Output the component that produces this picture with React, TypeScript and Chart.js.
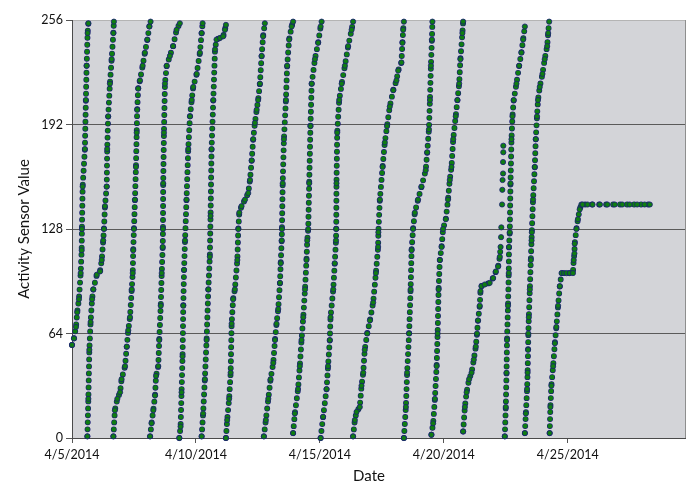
import React, { useEffect, useRef } from "react";
import { Chart, registerables } from "chart.js";

Chart.register(...registerables);

// x = days after 4/5/2014 00:00, y = activity sensor value (0..255, wraps)
const xTickDays = [0, 5, 10, 15, 20];
const yTickValues = [0, 64, 128, 192, 256];
const xMaxDays = 24.73;

const sweep01: [number, number][] = [
  [0.0, 57], [0.08, 61], [0.16, 68], [0.21, 77], [0.28, 85], [0.35, 101], [0.39, 115],
  [0.4, 128], [0.43, 154], [0.52, 177], [0.56, 207], [0.59, 228], [0.63, 248], [0.66, 254],
];
const sweep02: [number, number][] = [
  [0.62, 1], [0.66, 24], [0.7, 54], [0.75, 71], [0.81, 85], [0.86, 91], [1.0, 100], [1.13, 102],
  [1.2, 109], [1.26, 121], [1.29, 128], [1.33, 142], [1.4, 154], [1.42, 177], [1.46, 197],
  [1.53, 217], [1.6, 232], [1.67, 248], [1.69, 255],
];
const sweep03: [number, number][] = [
  [1.67, 1], [1.73, 17], [1.83, 24], [1.94, 28], [2.0, 36], [2.14, 44], [2.21, 56], [2.27, 66],
  [2.34, 74], [2.41, 91], [2.45, 101], [2.47, 115], [2.5, 128], [2.54, 146], [2.58, 166],
  [2.61, 187], [2.63, 201], [2.67, 214], [2.74, 219], [2.85, 228], [2.94, 236], [3.04, 244],
  [3.12, 252], [3.17, 255],
];
const sweep04: [number, number][] = [
  [3.15, 1], [3.21, 9], [3.28, 17], [3.35, 26], [3.39, 38], [3.48, 44], [3.52, 60], [3.58, 81],
  [3.62, 101], [3.66, 117], [3.67, 128], [3.68, 156], [3.71, 187], [3.75, 217], [3.82, 228],
  [3.95, 234], [4.08, 240], [4.22, 250], [4.35, 254],
];
const sweep05: [number, number][] = [
  [4.33, 0], [4.38, 7], [4.42, 28], [4.46, 50], [4.49, 81], [4.52, 103], [4.56, 121], [4.62, 146],
  [4.69, 177], [4.76, 197], [4.83, 207], [4.89, 215], [5.03, 223], [5.16, 236], [5.23, 248],
  [5.27, 254],
];
const sweep06: [number, number][] = [
  [5.23, 1], [5.29, 15], [5.36, 36], [5.43, 60], [5.5, 91], [5.56, 111], [5.59, 136], [5.63, 177],
  [5.7, 207], [5.77, 238], [5.83, 244], [5.97, 245], [6.1, 246], [6.17, 250], [6.21, 253],
];
const sweep07: [number, number][] = [
  [6.21, 0], [6.26, 11], [6.34, 24], [6.4, 40], [6.44, 70], [6.5, 85], [6.57, 91], [6.67, 109],
  [6.71, 128], [6.75, 138], [6.84, 142], [6.98, 146], [7.11, 150], [7.18, 158], [7.25, 170],
  [7.31, 183], [7.38, 193], [7.45, 201], [7.51, 207], [7.58, 217], [7.65, 234], [7.71, 246],
  [7.78, 254],
];
const sweep08: [number, number][] = [
  [7.74, 1], [7.82, 11], [7.92, 24], [8.01, 36], [8.12, 46], [8.19, 60], [8.25, 70], [8.32, 79],
  [8.39, 95], [8.42, 107], [8.46, 121], [8.47, 128], [8.5, 156], [8.55, 183], [8.63, 207],
  [8.68, 228], [8.76, 244], [8.86, 252], [8.92, 255],
];
const sweep09: [number, number][] = [
  [8.92, 3], [8.99, 15], [9.12, 30], [9.19, 44], [9.26, 60], [9.33, 74], [9.4, 91], [9.46, 109],
  [9.49, 121], [9.53, 128], [9.57, 156], [9.62, 191], [9.67, 217], [9.8, 232], [9.93, 242],
  [10.03, 252], [10.07, 255],
];
const sweep10: [number, number][] = [
  [10.03, 0], [10.13, 13], [10.27, 30], [10.33, 44], [10.4, 60], [10.43, 74], [10.54, 91],
  [10.6, 107], [10.65, 121], [10.66, 128], [10.67, 156], [10.7, 187], [10.78, 207], [10.88, 217],
  [11.01, 228], [11.14, 240], [11.28, 250], [11.34, 255],
];
const sweep11: [number, number][] = [
  [11.34, 1], [11.41, 11], [11.48, 16], [11.61, 19], [11.68, 32], [11.75, 40], [11.81, 54],
  [11.91, 64], [12.02, 72], [12.15, 83], [12.26, 101], [12.35, 117], [12.36, 126], [12.42, 146],
  [12.53, 166], [12.62, 181], [12.71, 191], [12.82, 203], [12.96, 213], [13.09, 219], [13.16, 225],
  [13.29, 230], [13.33, 242], [13.36, 250], [13.39, 255],
];
const sweep12: [number, number][] = [
  [13.39, 0], [13.47, 19], [13.52, 40], [13.6, 64], [13.66, 91], [13.7, 115], [13.76, 128],
  [13.83, 138], [13.96, 146], [14.1, 154], [14.27, 164], [14.33, 175], [14.4, 189], [14.44, 207],
  [14.48, 228], [14.52, 244], [14.54, 255],
];
const sweep13: [number, number][] = [
  [14.5, 2], [14.57, 9], [14.64, 24], [14.71, 44], [14.75, 64], [14.79, 91], [14.84, 109],
  [14.91, 117], [14.97, 128], [15.08, 134], [15.17, 146], [15.24, 158], [15.31, 166], [15.38, 183],
  [15.48, 197], [15.55, 207], [15.62, 217], [15.67, 232], [15.75, 248], [15.78, 255],
];
const sweep14: [number, number][] = [
  [15.78, 4], [15.85, 19], [15.92, 28], [16.02, 36], [16.12, 40], [16.21, 48], [16.29, 56],
  [16.34, 64], [16.38, 72], [16.45, 81], [16.48, 90], [16.52, 93], [16.65, 94], [16.85, 95],
  [16.99, 98], [17.1, 102], [17.19, 105], [17.26, 111], [17.29, 117],
];
// sparse readings at the top of the 4/21 sweep (drawn as separate dots only)
const sweep14Sparse: [number, number][] = [
  [17.31, 123], [17.32, 129], [17.35, 143], [17.36, 152], [17.37, 158], [17.39, 162],
  [17.39, 169], [17.4, 175], [17.4, 179],
];
const sweep15: [number, number][] = [
  [17.46, 1], [17.5, 19], [17.53, 40], [17.55, 60], [17.59, 81], [17.62, 101], [17.63, 117],
  [17.66, 126], [17.69, 156], [17.73, 183], [17.77, 197], [17.82, 207], [17.93, 217], [18.04, 228],
  [18.13, 236], [18.2, 244], [18.27, 252],
];
const sweep16: [number, number][] = [
  [18.27, 3], [18.31, 15], [18.36, 30], [18.38, 40], [18.4, 54], [18.41, 64], [18.43, 74],
  [18.47, 91], [18.51, 109], [18.54, 121], [18.55, 126], [18.6, 146], [18.67, 166], [18.71, 183],
  [18.76, 197], [18.8, 207], [18.87, 215], [18.98, 223], [19.07, 232], [19.17, 240], [19.21, 248],
  [19.25, 255],
];
const sweep17: [number, number][] = [
  [19.27, 3], [19.3, 19], [19.34, 32], [19.41, 44], [19.48, 58], [19.54, 68], [19.61, 81],
  [19.68, 93], [19.75, 101], [19.85, 101], [19.95, 101], [20.08, 101], [20.21, 101], [20.24, 109],
  [20.27, 113], [20.28, 119], [20.35, 128], [20.41, 134], [20.48, 140], [20.55, 143], [20.6, 143],
  [20.8, 143], [21.0, 143], [21.3, 143], [21.6, 143], [21.9, 143], [22.2, 143], [22.5, 143],
  [22.8, 143], [23.1, 143], [23.31, 143],
];

const sweeps = [
  sweep01, sweep02, sweep03, sweep04, sweep05, sweep06, sweep07, sweep08, sweep09,
  sweep10, sweep11, sweep12, sweep13, sweep14, sweep15, sweep16, sweep17,
];

const GREEN = "#0f7d12";
const NAVY = "#1a1a78";
const PLOT_BG = "#d3d4d8";

function dayLabel(v: number): string {
  const d = new Date(Date.UTC(2014, 3, 5 + Math.round(v)));
  return `${d.getUTCMonth() + 1}/${d.getUTCDate()}/${d.getUTCFullYear()}`;
}

const plotAreaPlugin = {
  id: "plotAreaDeco",
  beforeDraw(chart: any) {
    const { ctx, chartArea: a } = chart;
    ctx.save();
    ctx.fillStyle = PLOT_BG;
    ctx.fillRect(a.left, a.top, a.right - a.left, a.bottom - a.top);
    ctx.restore();
  },
  beforeDatasetsDraw(chart: any) {
    const { ctx, chartArea: a } = chart;
    ctx.save();
    ctx.strokeStyle = "#8e8e8e";
    ctx.lineWidth = 1;
    ctx.beginPath();
    ctx.moveTo(a.right + 0.5, a.top);
    ctx.lineTo(a.right + 0.5, a.bottom);
    ctx.stroke();
    ctx.restore();
  },
  afterDraw(chart: any) {
    const { ctx } = chart;
    ctx.save();
    ctx.fillStyle = "#111";
    ctx.font = "15px Lato";
    ctx.textAlign = "center";
    ctx.textBaseline = "alphabetic";
    ctx.fillText("Date", 369, 481);
    ctx.translate(29, 229);
    ctx.rotate(-Math.PI / 2);
    ctx.fillText("Activity Sensor Value", 0, 0);
    ctx.restore();
  },
};

export default function App() {
  const ref = useRef<HTMLCanvasElement | null>(null);

  useEffect(() => {
    if (!ref.current) return;
    const pathData: any[] = [];
    const pointData: any[] = [];
    sweeps.forEach((s) => {
      s.forEach(([x, y]) => {
        pathData.push({ x, y });
        pointData.push({ x, y });
      });
      pathData.push({ x: s[s.length - 1][0], y: null });
    });
    sweep14Sparse.forEach(([x, y]) => pointData.push({ x, y }));

    const chart = new Chart(ref.current, {
      type: "line",
      data: {
        datasets: [
          {
            data: pointData,
            showLine: false,
            pointRadius: 2.6,
            pointBorderWidth: 0.8,
            pointBackgroundColor: GREEN,
            pointBorderColor: NAVY,
            order: 0,
            clip: 6,
          } as any,
          {
            data: pathData,
            borderColor: GREEN,
            borderWidth: 4.8,
            borderDash: [0, 7],
            borderCapStyle: "round",
            pointRadius: 0,
            spanGaps: false,
            order: 1,
            clip: 6,
          } as any,
          {
            data: pathData,
            borderColor: NAVY,
            borderWidth: 5.9,
            borderDash: [0, 7],
            borderCapStyle: "round",
            pointRadius: 0,
            spanGaps: false,
            order: 2,
            clip: 6,
          } as any,
        ],
      },
      options: {
        animation: false,
        responsive: false,
        events: [],
        layout: { padding: { top: 20, right: 15, left: 0, bottom: 0 } },
        plugins: { legend: { display: false }, tooltip: { enabled: false } },
        scales: {
          x: {
            type: "linear",
            min: 0,
            max: xMaxDays,
            afterFit: (s: any) => {
              s.height = 52;
            },
            afterBuildTicks: (s: any) => {
              s.ticks = xTickDays.map((v) => ({ value: v }));
            },
            ticks: {
              callback: (v: any) => dayLabel(Number(v)),
              color: "#111",
              font: { family: "Lato", size: 12.5 },
              padding: 4,
              maxRotation: 0,
              autoSkip: false,
            },
            grid: {
              drawOnChartArea: false,
              drawTicks: true,
              tickLength: 5,
              tickColor: "#555",
            },
            border: { display: true, color: "#4a4a4a" },
          },
          y: {
            type: "linear",
            min: 0,
            max: 256,
            afterFit: (s: any) => {
              s.width = 72;
            },
            afterBuildTicks: (s: any) => {
              s.ticks = yTickValues.map((v) => ({ value: v }));
            },
            ticks: {
              color: "#111",
              font: { family: "Lato", size: 12.5 },
              padding: 3,
            },
            grid: {
              color: (c: any) =>
                c.tick && c.tick.value === 256 ? "#b4b4b4" : "#5a5a5a",
              tickColor: "#555",
              tickLength: 6,
            },
            border: { display: true, color: "#4a4a4a" },
          },
        },
      },
      plugins: [plotAreaPlugin],
    });
    return () => chart.destroy();
  }, []);

  return (
    <div style={{ position: "fixed", left: 0, top: 0, width: 700, height: 490, background: "#fff" }}>
      <canvas ref={ref} width={700} height={490} style={{ width: 700, height: 490 }} />
    </div>
  );
}
